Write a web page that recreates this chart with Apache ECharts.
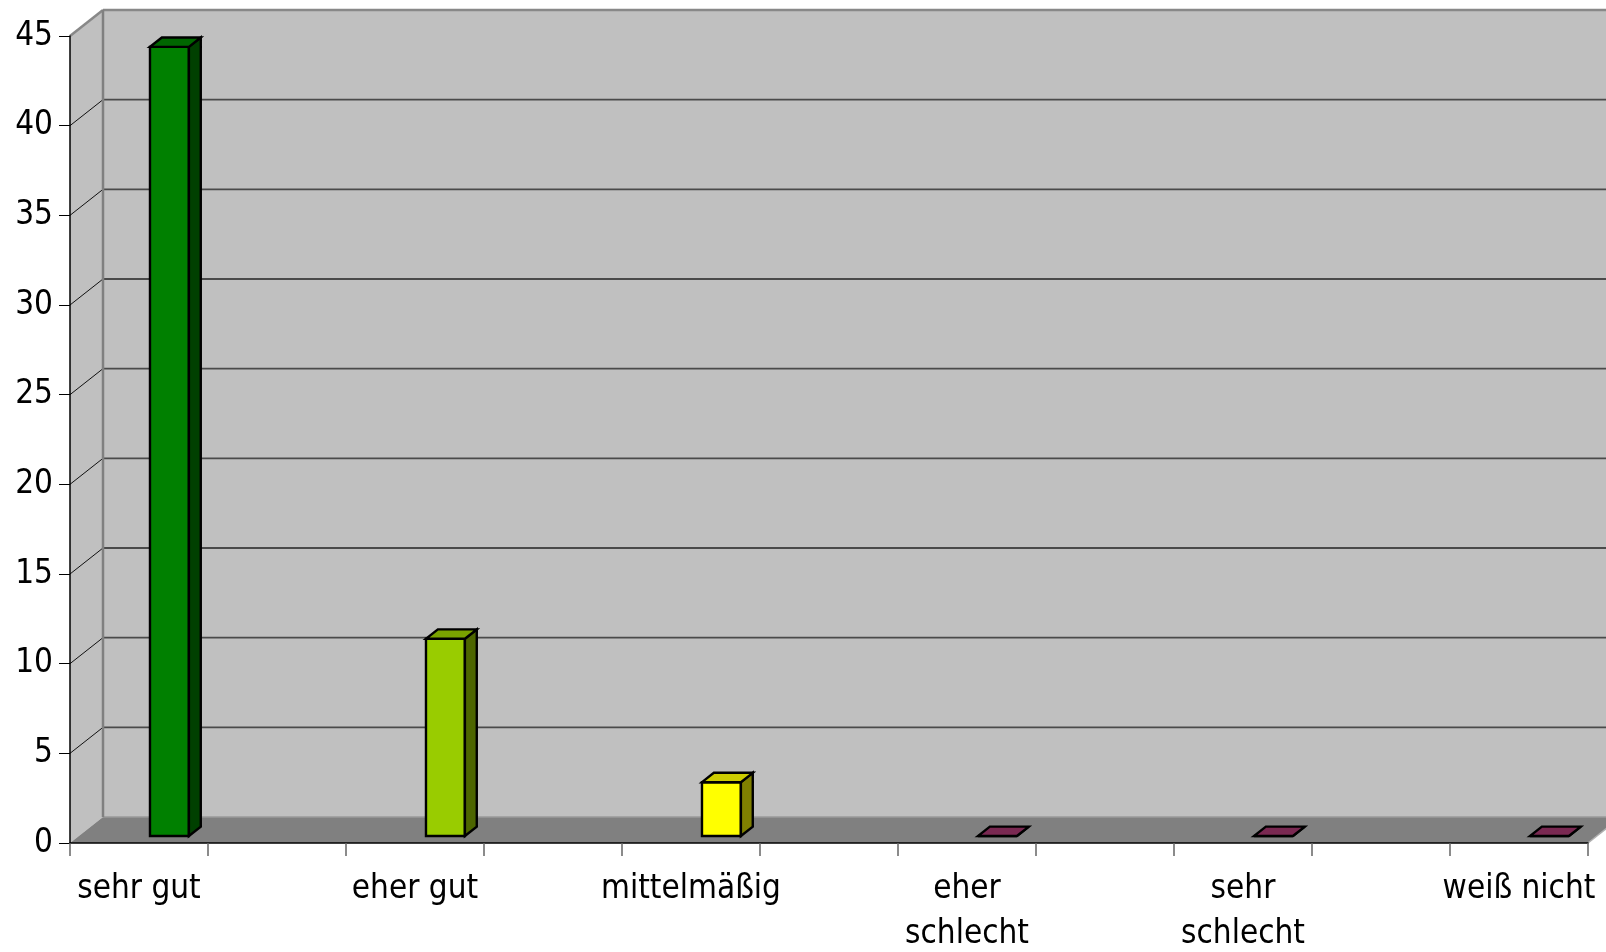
<!DOCTYPE html>
<html>
<head>
<meta charset="utf-8">
<script src="https://cdn.jsdelivr.net/npm/echarts@6/dist/echarts.min.js"></script>
<style>
  html, body { margin: 0; padding: 0; background: #ffffff; }
  #chart { width: 1606px; height: 952px; }
</style>
</head>
<body>
<div id="chart"></div>
<script>
// ---- data ----
const categories = ['sehr gut', 'eher gut', 'mittelmäßig', 'eher\nschlecht', 'sehr\nschlecht', 'weiß nicht'];
const values = [44, 11, 3, 0, 0, 0];
const barColors = ['#008000', '#99cc00', '#ffff00', '#993366', '#993366', '#993366'];
const yMin = 0;
const yMax = 45;
const yStep = 5;

// ---- 3D look ----
const DEPTH_X = 33;   // horizontal shift of the back wall
const DEPTH_Y = 26;   // vertical shift of the back wall
const BAR_FRONT = 0.27; // depth fraction where the bar's front face sits
const BAR_BACK = 0.63;  // depth fraction where the bar's back face sits
const FONT = "'DejaVu Sans Condensed', 'Liberation Sans', sans-serif";

// every category gets its own slot, with an empty slot in between
const slots = [];
categories.forEach(function (c, i) {
  slots.push(c);
  if (i < categories.length - 1) slots.push('');
});

const barData = values.map(function (v, i) { return [i * 2, v]; });

function shade(hex, k) {
  const n = parseInt(hex.slice(1), 16);
  const r = Math.round(((n >> 16) & 255) * k);
  const g = Math.round(((n >> 8) & 255) * k);
  const b = Math.round((n & 255) * k);
  return 'rgb(' + r + ',' + g + ',' + b + ')';
}

function renderWalls(params, api) {
  const w = api.size([1, 0])[0];
  const c0 = api.coord([0, yMin]);
  const x0 = c0[0] - w / 2;
  const x1 = api.coord([slots.length - 1, yMin])[0] + w / 2;
  const y0 = c0[1];
  const yTop = api.coord([0, yMax])[1];
  const dx = DEPTH_X, dy = -DEPTH_Y;
  const children = [];

  // back wall
  children.push({ type: 'polygon', shape: { points: [[x0 + dx, yTop + dy], [x1 + dx + 40, yTop + dy], [x1 + dx + 40, y0 + dy], [x0 + dx, y0 + dy]] },
    style: { fill: '#c0c0c0' } });
  // side wall
  children.push({ type: 'polygon', shape: { points: [[x0, yTop], [x0 + dx, yTop + dy], [x0 + dx, y0 + dy], [x0, y0]] },
    style: { fill: '#c0c0c0' } });
  // floor
  children.push({ type: 'polygon', shape: { points: [[x0, y0], [x1, y0], [x1 + dx, y0 + dy], [x0 + dx, y0 + dy]] },
    style: { fill: '#808080' } });
  children.push({ type: 'line', shape: { x1: x0 + dx, y1: y0 + dy, x2: x1 + dx + 40, y2: y0 + dy },
    style: { stroke: '#9a9a9a', lineWidth: 1.5 } });

  // grid lines on the back and side walls
  for (let v = yMin + yStep; v < yMax; v += yStep) {
    const y = api.coord([0, v])[1];
    children.push({ type: 'line', shape: { x1: x0 + dx, y1: y + dy, x2: x1 + dx + 40, y2: y + dy },
      style: { stroke: '#4a4a4a', lineWidth: 1.8 } });
    children.push({ type: 'line', shape: { x1: x0, y1: y, x2: x0 + dx, y2: y + dy },
      style: { stroke: '#111111', lineWidth: 1 } });
  }
  // outer edges of the walls
  children.push({ type: 'line', shape: { x1: x0 + dx, y1: yTop + dy, x2: x1 + dx + 40, y2: yTop + dy },
    style: { stroke: '#888888', lineWidth: 2.5 } });
  children.push({ type: 'line', shape: { x1: x0, y1: yTop, x2: x0 + dx, y2: yTop + dy },
    style: { stroke: '#888888', lineWidth: 2.5 } });
  children.push({ type: 'line', shape: { x1: x0 + dx, y1: yTop + dy, x2: x0 + dx, y2: y0 + dy },
    style: { stroke: '#808080', lineWidth: 2.5 } });
  children.push({ type: 'line', shape: { x1: x1, y1: y0, x2: x1 + dx, y2: y0 + dy },
    style: { stroke: '#b0b0b0', lineWidth: 1.5 } });

  return { type: 'group', children: children };
}

function renderBar(params, api) {
  const slot = api.value(0);
  const v = api.value(1);
  const w = api.size([1, 0])[0];
  const base = api.coord([slot, 0]);
  const top = api.coord([slot, v]);
  const color = barColors[params.dataIndex];

  const L = base[0] + 0.015 * w + BAR_FRONT * DEPTH_X;
  const R = L + 0.282 * w;
  const yb = base[1] - BAR_FRONT * DEPTH_Y;
  const yt = top[1] - BAR_FRONT * DEPTH_Y;
  const ddx = (BAR_BACK - BAR_FRONT) * DEPTH_X;
  const ddy = -(BAR_BACK - BAR_FRONT) * DEPTH_Y;
  const stroke = { stroke: '#000000', lineWidth: 2.4, lineJoin: 'miter' };

  return {
    type: 'group',
    children: [
      { type: 'polygon', shape: { points: [[L, yb], [R, yb], [R, yt], [L, yt]] },
        style: Object.assign({ fill: color }, stroke) },
      { type: 'polygon', shape: { points: [[R, yb], [R, yt], [R + ddx, yt + ddy], [R + ddx, yb + ddy]] },
        style: Object.assign({ fill: shade(color, 0.5) }, stroke) },
      { type: 'polygon', shape: { points: [[L, yt], [R, yt], [R + ddx, yt + ddy], [L + ddx, yt + ddy]] },
        style: Object.assign({ fill: shade(color, 0.8) }, stroke) }
    ]
  };
}

const chart = echarts.init(document.getElementById('chart'), null, { renderer: 'canvas' });

chart.setOption({
  animation: false,
  backgroundColor: '#ffffff',
  grid: { left: 70, right: 18, top: 36, bottom: 109, containLabel: false, outerBoundsMode: 'none' },
  xAxis: {
    type: 'category',
    data: slots,
    boundaryGap: true,
    axisLine: { show: true, lineStyle: { color: '#000000', width: 1.5 } },
    axisTick: { show: true, interval: 0, length: 13, lineStyle: { color: '#666666', width: 1.5 } },
    axisLabel: {
      interval: 0,
      margin: 24,
      color: '#000000',
      fontFamily: FONT,
      fontSize: 33,
      lineHeight: 45
    },
    splitLine: { show: false }
  },
  yAxis: {
    type: 'value',
    min: yMin,
    max: yMax,
    interval: yStep,
    axisLine: { show: true, lineStyle: { color: '#000000', width: 1.5 } },
    axisTick: { show: true, length: 11, lineStyle: { color: '#000000', width: 1 } },
    axisLabel: {
      margin: 17,
      color: '#000000',
      fontFamily: FONT,
      fontSize: 33
    },
    splitLine: { show: false }
  },
  series: [
    {
      name: 'walls',
      type: 'custom',
      z: -1,
      silent: true,
      clip: false,
      data: [[0, 0]],
      renderItem: renderWalls
    },
    {
      name: 'bars',
      type: 'custom',
      z: 3,
      clip: false,
      data: barData,
      renderItem: renderBar
    }
  ]
});
</script>
</body>
</html>
